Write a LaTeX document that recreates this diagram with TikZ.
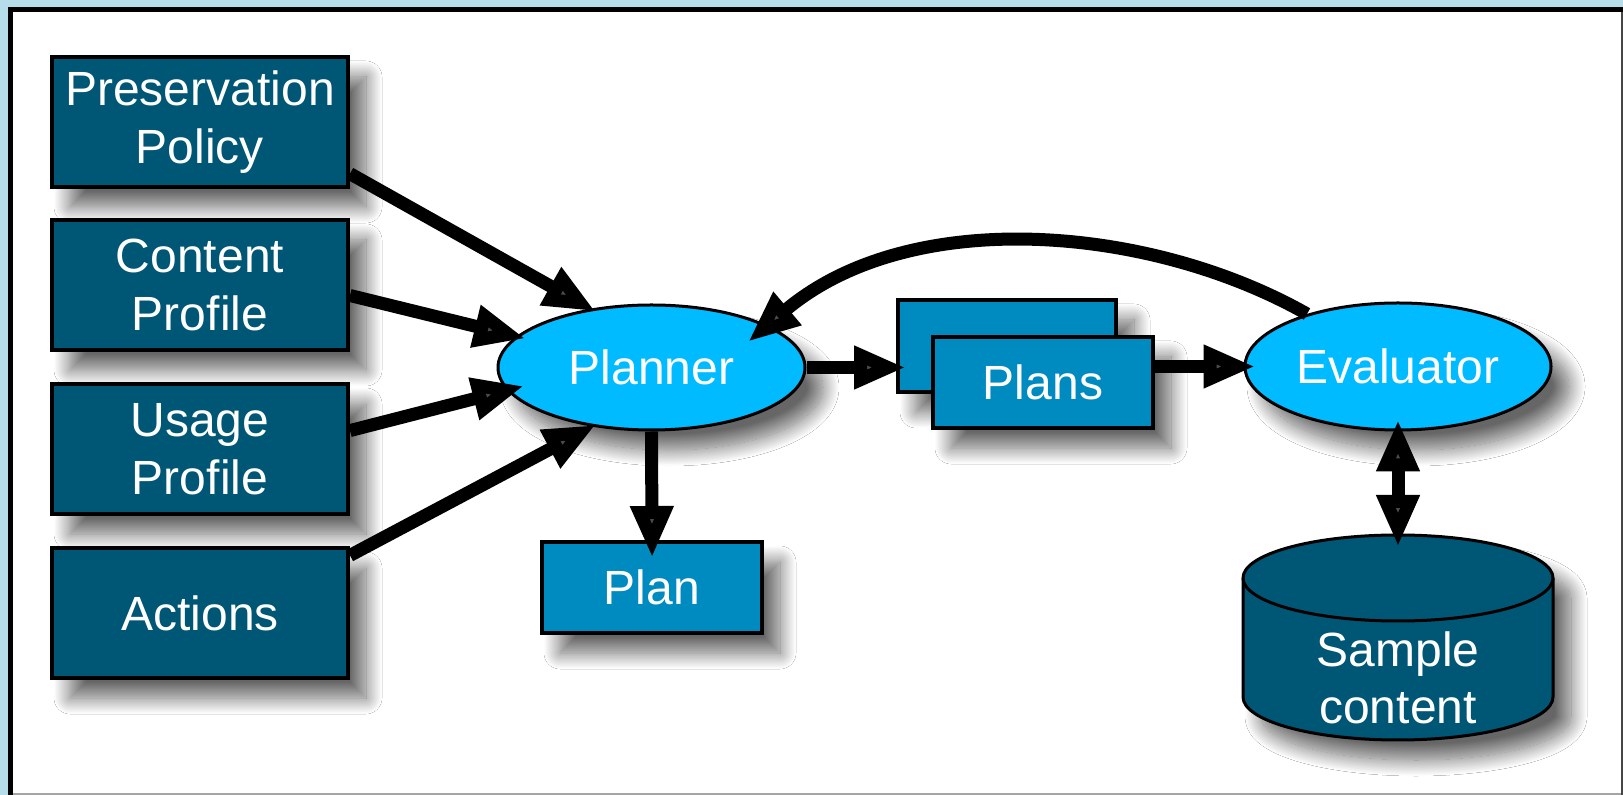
\documentclass[tikz,border=0pt]{standalone}
\usepackage{fontspec}
\setmainfont{Liberation Sans}
\usetikzlibrary{arrows.meta,shapes.geometric,shadows.blur,calc}

\definecolor{pagebg}{RGB}{181,221,234}
\definecolor{boxdark}{RGB}{0,86,117}
\definecolor{boxmid}{RGB}{0,139,192}
\definecolor{ellblue}{RGB}{0,187,255}
\definecolor{rimdark}{RGB}{70,70,70}
\definecolor{rimgray}{RGB}{165,165,165}

\tikzset{
  softshadow/.style={blur shadow={shadow xshift=9pt, shadow yshift=-10pt,
      shadow blur radius=8pt, shadow opacity=60, shadow blur steps=24}},
  wtext/.style={text=white, align=center, font=\fontsize{24pt}{28.8pt}\selectfont},
  inbox/.style={rectangle, draw=black, line width=2pt, fill=boxdark,
      minimum width=148pt, minimum height=65pt, inner sep=0pt, softshadow, wtext},
  planbox/.style={rectangle, draw=black, line width=2pt, fill=boxmid,
      minimum width=110pt, minimum height=45.5pt, inner sep=0pt, softshadow, wtext},
  procell/.style={ellipse, draw=black, line width=1.5pt, fill=ellblue,
      inner sep=0pt, softshadow, wtext},
  flow/.style={line width=6.5pt, -{Triangle[length=26pt,width=20pt]}},
  biflow/.style={line width=6.5pt,
      {Triangle[length=26pt,width=20pt]}-{Triangle[length=26pt,width=20pt]}},
}

\begin{document}
\begin{tikzpicture}[x=0.5pt, y=-0.5pt]
  \useasboundingbox (0,0) rectangle (1623,795);

  % page background and framed panel
  \fill[pagebg] (0,0) rectangle (1623,795);
  \fill[white] (10,9) rectangle (1623,795);
  \draw[rimgray, line width=1pt] (10,794) -- (1623,794);
  \draw[rimdark, line width=1pt] (1621.5,9) -- (1621.5,795);
  \draw[black, line width=2.2pt] (10.5,795) -- (10.5,9.5) -- (1623,9.5);

  % inputs
  \node[inbox] (pp) at (200,122) {Preservation\\Policy};
  \node[inbox] (cp) at (200,285) {Content\\Profile};
  \node[inbox] (up) at (200,449) {Usage\\Profile};
  \node[inbox] (ac) at (200,613) {Actions};

  % planner and outputs
  \node[procell, minimum width=153.5pt, minimum height=62.5pt] (planner) at (651.5,367.5) {Planner};
  \node[planbox, minimum width=109pt, minimum height=46pt] (plansback) at (1007,346) {};
  \node[planbox] (plans) at (1043,382.5) {Plans};
  \node[planbox] (plan) at (652,587.5) {Plan};

  % evaluator
  \node[procell, minimum width=153pt, minimum height=63.5pt] (evaluator) at (1398,366.5) {Evaluator};

  % sample content store
  \path[fill=boxdark, draw=black, line width=1.5pt, softshadow]
    (1243,578) -- (1243,697)
    arc[start angle=180, end angle=0, x radius=155, y radius=43]
    -- (1553,578)
    arc[start angle=0, end angle=-180, x radius=155, y radius=43] -- cycle;
  \draw[line width=1.5pt] (1243,578) arc[start angle=180, end angle=0, x radius=155, y radius=43];
  \node[wtext] (db) at (1398,678) {Sample\\content};
  \coordinate (dbtop) at (1398,535);

  % connectors
  \draw[flow, shorten >=-3pt] (pp.-19.7) -- (planner.136);
  \draw[flow, shorten >=-5pt] (cp.-4.6) -- (planner.167.5);
  \draw[flow, shorten >=-9pt] (up.7.2) -- (planner.189.4);
  \draw[flow, shorten >=-2pt] (ac.21.8) -- (planner.225.5);
  \draw[flow, shorten >=-5pt] (planner.east) -- (planner.east -| plansback.west);
  \draw[flow, shorten >=-6pt] (plans.east |- evaluator.west) -- (evaluator.west);
  \draw[flow, shorten >=-9pt] (planner.south) -- (plan.north);
  \draw[flow, shorten >=-13pt] (evaluator.150) .. controls (1150,225) and (910,205) .. (planner.20);
  \draw[biflow, shorten <=-6pt, shorten >=-6pt] (evaluator.south) -- (dbtop);
\end{tikzpicture}
\end{document}
